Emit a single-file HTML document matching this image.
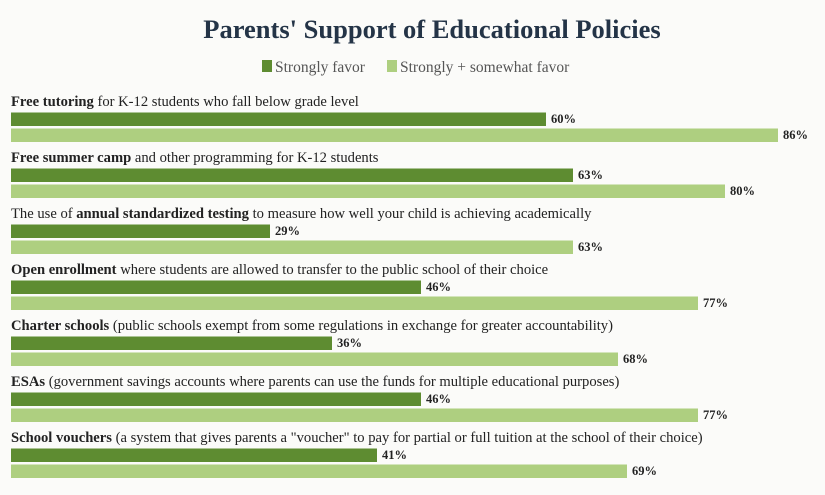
<!DOCTYPE html>
<html><head><meta charset="utf-8"><style>
body{margin:0;background:#fbfbf9;}
svg{display:block;font-family:"Liberation Serif",serif;}
.l{font-size:14.6px;fill:#222;}
.v{font-size:12.5px;font-weight:bold;fill:#222;}
</style></head><body>
<svg width="825" height="495" viewBox="0 0 825 495">
<rect width="825" height="495" fill="#fbfbf9"/>
<text x="432" y="38" text-anchor="middle" font-size="26.5" font-weight="bold" fill="#243447">Parents' Support of Educational Policies</text>
<rect x="262" y="60" width="10" height="12" fill="#5e8c31"/>
<text x="275" y="72" font-size="15.5" fill="#555">Strongly favor</text>
<rect x="387" y="60" width="10" height="12" fill="#aecf80"/>
<text x="400" y="72" font-size="15.5" fill="#555">Strongly + somewhat favor</text>
<g id="rows">
<text class="l" x="11" y="106"><tspan font-weight="bold">Free tutoring</tspan> for K-12 students who fall below grade level</text>
<rect x="11" y="112.5" width="535" height="13.5" fill="#5e8c31"/><text class="v" x="551" y="123">60%</text>
<rect x="11" y="128.5" width="767" height="13.5" fill="#aecf80"/><text class="v" x="783" y="139">86%</text>

<text class="l" x="11" y="162"><tspan font-weight="bold">Free summer camp</tspan> and other programming for K-12 students</text>
<rect x="11" y="168.5" width="562" height="13.5" fill="#5e8c31"/><text class="v" x="578" y="179">63%</text>
<rect x="11" y="184.5" width="714" height="13.5" fill="#aecf80"/><text class="v" x="730" y="195">80%</text>

<text class="l" x="11" y="218">The use of <tspan font-weight="bold">annual standardized testing</tspan> to measure how well your child is achieving academically</text>
<rect x="11" y="224.5" width="259" height="13.5" fill="#5e8c31"/><text class="v" x="275" y="235">29%</text>
<rect x="11" y="240.5" width="562" height="13.5" fill="#aecf80"/><text class="v" x="578" y="251">63%</text>

<text class="l" x="11" y="274"><tspan font-weight="bold">Open enrollment</tspan> where students are allowed to transfer to the public school of their choice</text>
<rect x="11" y="280.5" width="410" height="13.5" fill="#5e8c31"/><text class="v" x="426" y="291">46%</text>
<rect x="11" y="296.5" width="687" height="13.5" fill="#aecf80"/><text class="v" x="703" y="307">77%</text>

<text class="l" x="11" y="330"><tspan font-weight="bold">Charter schools</tspan> (public schools exempt from some regulations in exchange for greater accountability)</text>
<rect x="11" y="336.5" width="321" height="13.5" fill="#5e8c31"/><text class="v" x="337" y="347">36%</text>
<rect x="11" y="352.5" width="607" height="13.5" fill="#aecf80"/><text class="v" x="623" y="363">68%</text>

<text class="l" x="11" y="386"><tspan font-weight="bold">ESAs</tspan> (government savings accounts where parents can use the funds for multiple educational purposes)</text>
<rect x="11" y="392.5" width="410" height="13.5" fill="#5e8c31"/><text class="v" x="426" y="403">46%</text>
<rect x="11" y="408.5" width="687" height="13.5" fill="#aecf80"/><text class="v" x="703" y="419">77%</text>

<text class="l" x="11" y="442"><tspan font-weight="bold">School vouchers</tspan> (a system that gives parents a "voucher" to pay for partial or full tuition at the school of their choice)</text>
<rect x="11" y="448.5" width="366" height="13.5" fill="#5e8c31"/><text class="v" x="382" y="459">41%</text>
<rect x="11" y="464.5" width="616" height="13.5" fill="#aecf80"/><text class="v" x="632" y="475">69%</text>
</g>
</svg>
</body></html>
